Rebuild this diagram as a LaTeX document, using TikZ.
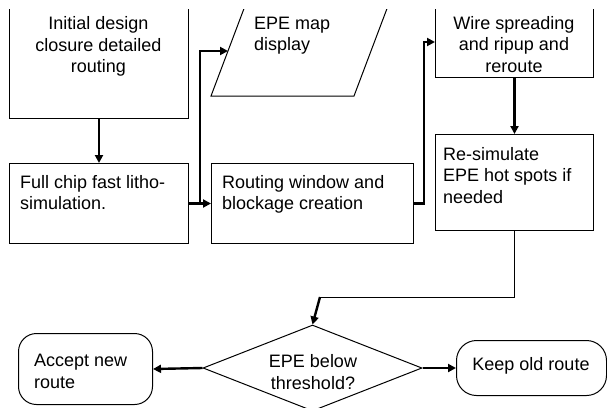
\documentclass[tikz,border=0pt]{standalone}
\usepackage{fontspec}
\setmainfont{Liberation Sans}
\usetikzlibrary{arrows.meta,shapes.geometric}
\begin{document}
\begin{tikzpicture}[x=1pt,y=-1pt,
  box/.style={draw=black,line width=1pt,inner sep=0pt,anchor=north west},
  txt/.style={inner sep=0pt,font=\fontsize{18}{21.5}\selectfont},
  conn/.style={line width=2.4pt,-{Triangle[length=8pt,width=8pt]}},
  thinline/.style={line width=1pt}]
\useasboundingbox (0,0) rectangle (607,407);
\clip (0,9) rectangle (607,407);
% boxes
\node[box,minimum width=179pt,minimum height=158pt] (b1) at (9,-40) {};
\node[box,minimum width=179pt,minimum height=80pt] (b2) at (9,163) {};
\node[box,minimum width=202pt,minimum height=80pt] (b3) at (211,163) {};
\node[box,minimum width=158pt,minimum height=117pt] (b4) at (435,-40) {};
\node[box,minimum width=158pt,minimum height=96pt] (b5) at (435,134) {};
\node[box,rounded corners=18pt,minimum width=134pt,minimum height=71pt] (acc) at (18,333) {};
\node[box,rounded corners=20pt,minimum width=150pt,minimum height=55pt] (keep) at (456,340) {};
\node[draw=black,line width=1pt,shape=diamond,inner sep=0pt,minimum width=219pt,minimum height=86pt] (d) at (312.5,368) {};
% parallelogram
\draw[line width=1pt] (211,96) -- (354,96) -- (394,-10) -- (251,-10) -- cycle;
\coordinate (pin) at (228,51);
% texts
\node[txt,anchor=north,align=center] (t1) at (98.5,16.6) {Initial design\\closure detailed\\routing};
\node[txt,anchor=north west,align=left] (t2) at (20,175) {Full chip fast litho-\\simulation.};
\node[txt,anchor=north west,align=left] (t3) at (222,175) {Routing window and\\blockage creation};
\node[txt,anchor=north west,align=left] (tp) at (254,16.6) {EPE map\\display};
\node[txt,anchor=north,align=center] (t4) at (514,16) {Wire spreading\\and ripup and\\reroute};
\node[txt,anchor=north west,align=left] (t5) at (443,147) {Re-simulate\\EPE hot spots if\\needed};
\node[txt,anchor=north west,align=left] (ta) at (34,354) {Accept new\\route};
\node[txt,anchor=north,align=center] (td) at (313,354.5) {EPE below\\threshold?};
\node[txt,anchor=north] (tk) at (531,357) {Keep old route};
% connectors
\coordinate (j1) at (200,203);
\coordinate (j2) at (424,42);
\coordinate (j3) at (320,297);
\draw[conn] (b1.south) -- (b2.north);
\draw[conn] (b2.east) -- (b3.west);
\draw[conn] (j1) |- (pin);
\draw[conn] (b3.east) -| (j2) -- (b4.west |- j2);
\draw[conn] (b4.south) -- (b5.north);
\draw[thinline] (b5.south) |- (j3);
\draw[conn] (j3) -- (d.north);
\draw[conn] (d.east) -- (keep.west);
\draw[conn] (d.west) -- (acc.east);
\end{tikzpicture}
\end{document}
